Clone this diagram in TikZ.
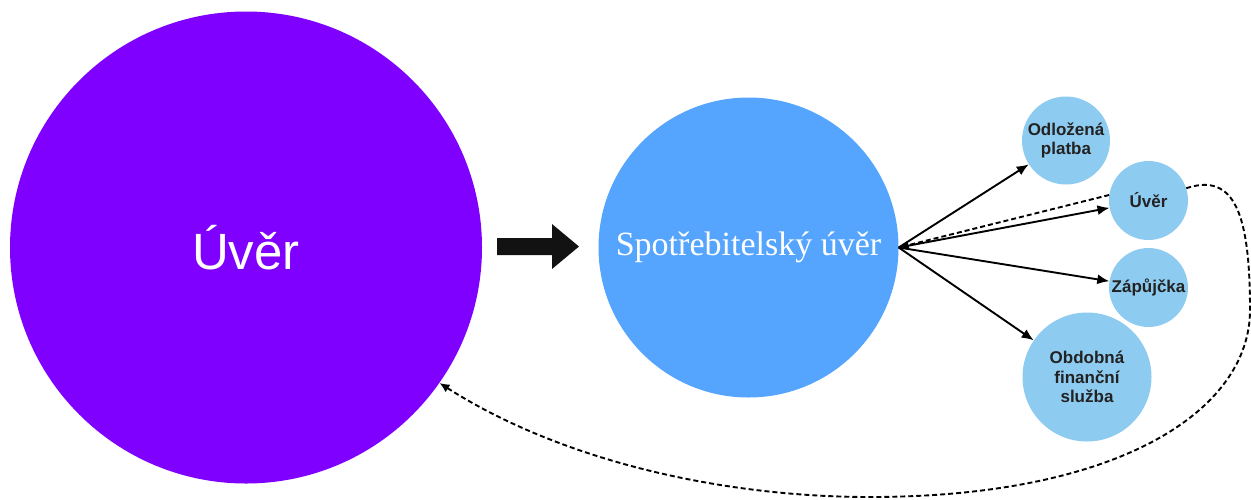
\documentclass[tikz,border=0pt]{standalone}
\usepackage{fontspec}
\setmainfont{Liberation Serif}
\newfontfamily\arialfont{Liberation Sans}
\usetikzlibrary{arrows.meta}
\definecolor{bigpurple}{HTML}{7F00FF}
\definecolor{midblue}{HTML}{55A5FF}
\definecolor{lightblue}{HTML}{8ECBF0}
\definecolor{labeltext}{HTML}{222222}
\tikzset{
  bigcircle/.style={circle, fill=bigpurple, draw=none, inner sep=0pt, minimum size=472pt, text=white, font=\arialfont\fontsize{51}{60}\selectfont},
  midcircle/.style={circle, fill=midblue, draw=none, inner sep=0pt, minimum size=300pt, text=white, font=\fontsize{34}{40}\selectfont},
  smallcircle/.style={circle, fill=lightblue, draw=none, inner sep=0pt, text=labeltext, align=center, font=\arialfont\bfseries\fontsize{17}{19.5}\selectfont},
  conn/.style={line width=1.9pt, -{Latex[length=12pt,width=10pt]}},
  dconn/.style={line width=1.9pt, dash pattern=on 5pt off 3pt, -{Latex[length=10pt,width=9pt]}},
}
\begin{document}
\begin{tikzpicture}[x=1pt,y=-1pt]
\useasboundingbox (0,0) rectangle (1251,499);
\node[bigcircle] (big) at (246,247.5) {Úvěr};
\node[midcircle] (sp) at (748.5,247.5) {Spotřebitelský úvěr};
\node[smallcircle, minimum size=88pt] (od) at (1066,140.5) {Odložená\\platba};
\node[smallcircle, minimum size=79pt] (uv) at (1148.5,200.5) {Úvěr};
\node[smallcircle, minimum size=79pt] (za) at (1148.5,287.5) {Zápůjčka};
\node[smallcircle, minimum size=129pt] (ob) at (1087,377) {Obdobná\\finanční\\služba};
% block arrow
\fill[black!93] (497,238) -- (552,238) -- (552,224) -- (579,246.5) -- (552,269) -- (552,255) -- (497,255) -- cycle;
% connectors
\draw[conn] (sp.east) -- (od);
\draw[conn] (sp.east) -- (uv);
\draw[conn] (sp.east) -- (za);
\draw[conn] (sp.east) -- (ob);
\draw[dconn] (uv.172) -- (sp.east);
\draw[dconn] (uv.18) .. controls (1235,172) and (1250,215) .. (1250,310)
  .. controls (1250,410) and (1120,497) .. (870,497)
  .. controls (720,497) and (560,460) .. (big.-35);
\end{tikzpicture}
\end{document}
